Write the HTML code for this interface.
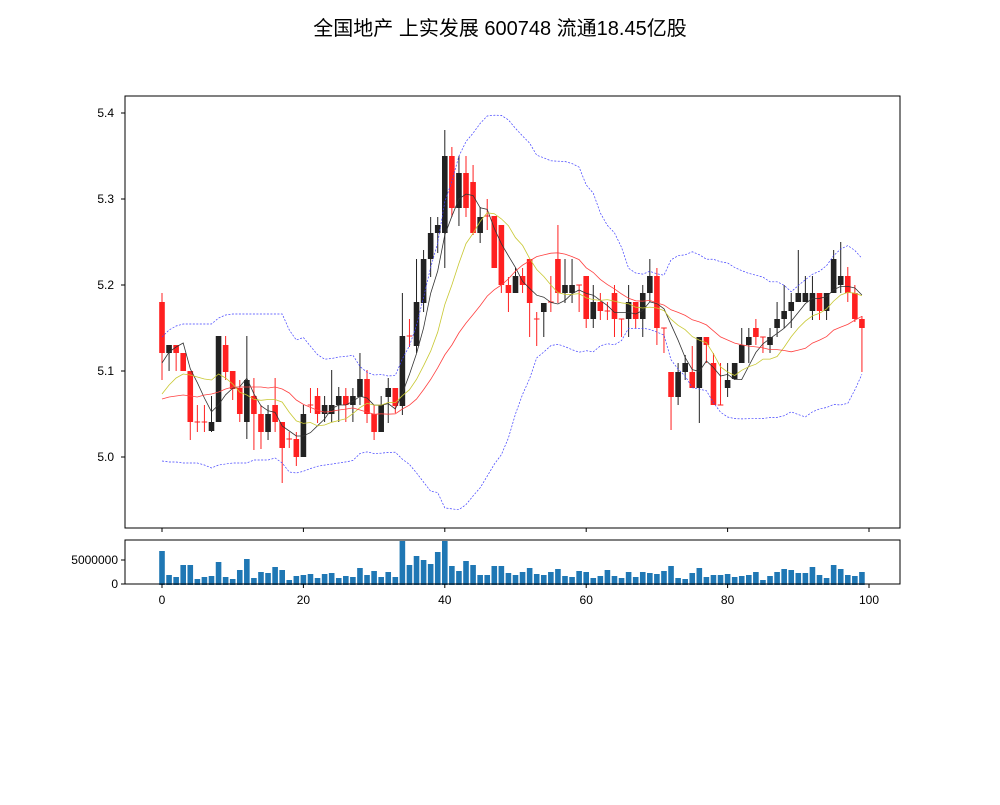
<!DOCTYPE html>
<html><head><meta charset="utf-8"><style>
body{margin:0;background:#fff}
svg text{font-family:"Liberation Sans","Noto Sans CJK SC",sans-serif;}
</style></head><body>
<svg id="s" width="1000" height="800" xmlns="http://www.w3.org/2000/svg">
<rect width="1000" height="800" fill="#fff"/>
<text x="500" y="35" font-size="20" text-anchor="middle" font-family="'Noto Sans CJK SC',sans-serif">全国地产 上实发展 600748 流通18.45亿股</text>
<g id="g"></g>
<rect x="125" y="96" width="775" height="432" fill="none" stroke="#000" stroke-width="1"/>
<rect x="125" y="540" width="775" height="44" fill="none" stroke="#000" stroke-width="1"/>
</svg>
<script>
var R='r',B='k';
var D=[
[R,302,353,293,380],[B,345,353,345,371],[R,345,353,345,371],[R,353,371,353,371],[R,371,422,371,440],
[R,422,422,405,432],[R,422,422,405,432],[B,422,431,396,432],[B,336,422,336,422],[R,345,372,336,380],
[R,371,389,371,400],[R,388,414,380,422],[B,380,422,336,439],[R,396,414,378,450],[R,414,432,405,449],
[B,414,432,405,440],[R,405,422,378,432],[R,422,448,422,483],[R,439,439,432,448],[R,439,457,432,466],
[B,414,457,405,457],[R,405,405,388,413],[R,396,414,388,423],[B,405,414,396,422],[B,405,414,370,422],
[B,396,405,387,422],[R,396,405,388,422],[B,396,405,388,422],[B,379,397,353,405],[R,379,414,370,423],
[R,414,432,405,440],[B,405,432,396,432],[B,388,397,378,423],[R,388,406,388,413],[B,336,406,293,415],
[R,336,336,319,347],[B,302,346,259,353],[B,259,303,250,312],[B,233,259,217,277],[B,225,233,217,253],
[B,156,233,130,268],[R,156,208,147,217],[B,173,208,156,226],[R,173,208,156,217],[R,182,233,165,235],
[B,217,233,207,243],[R,216,216,199,230],[R,216,268,216,268],[R,225,285,225,293],[R,285,293,277,312],
[B,276,293,268,293],[R,276,285,268,293],[R,259,303,259,337],[R,319,319,312,346],[B,303,312,303,337],
[R,302,302,276,312],[R,259,293,225,303],[B,285,293,259,303],[B,285,293,259,303],[R,285,285,285,312],
[R,276,319,276,328],[B,302,319,285,328],[R,302,311,293,320],[R,311,311,302,320],[R,293,319,285,337],
[R,319,319,319,337],[B,302,319,285,337],[R,302,319,302,328],[B,293,319,285,337],[B,276,293,259,302],
[R,276,328,268,345],[R,328,328,328,353],[R,372,397,372,430],[B,372,397,363,405],[B,363,372,355,380],
[R,372,388,346,388],[B,337,388,337,423],[R,337,345,337,363],[R,363,405,353,405],[R,405,405,363,405],
[B,380,388,363,397],[B,363,379,363,379],[B,345,363,328,363],[B,337,345,328,363],[R,328,337,319,345],
[R,337,337,337,353],[B,337,345,328,353],[B,319,328,302,337],[B,311,319,285,328],[B,302,311,293,328],
[B,293,302,250,302],[B,293,302,276,302],[B,293,311,276,320],[R,293,311,293,320],[B,293,311,293,320],
[B,259,293,250,293],[B,276,285,242,293],[R,276,293,267,302],[R,293,319,285,322],[R,319,328,316,372]];
var V=[48,120,126,90,90,132,126,123,81,126,132,105,72,129,111,114,96,105,135,123,120,117,129,117,114,129,123,126,99,120,108,126,111,126,18,90,63,75,87,51,18,93,108,78,90,120,120,93,
93,114,120,111,99,117,120,111,102,123,126,108,111,129,123,105,123,129,111,126,111,114,117,108,93,129,132,114,99,126,120,120,117,126,123,120,111,135,123,111,102,105,114,114,96,120,129,90,102,120,123,111];
function X(i){return 162+7.07*i}
var h='';
var C=D.map(function(d){return d[0]==B?d[1]:d[2]});
function ma(n){return C.map(function(_,i){var s=0,k=0;for(var j=Math.max(0,i-n+1);j<=i;j++){s+=C[j];k++}return s/k})}
function pl(a,col,w,dash){return '<polyline fill="none" stroke="'+col+'" stroke-width="'+w+'"'+(dash?' stroke-dasharray="'+dash+'"':'')+' points="'+a.map(function(v,i){return X(i).toFixed(1)+','+v.toFixed(1)}).join(' ')+'"/>'}
var m20=ma(20),up=[],lo=[];
C.forEach(function(_,i){var s=0,k=0;for(var j=Math.max(0,i-19);j<=i;j++){s+=Math.pow(C[j]-m20[i],2);k++}var sd=Math.sqrt(s/k);up.push(m20[i]-2*sd);lo.push(m20[i]+2*sd)});
var m5=ma(5),m10=ma(10);
var U0=[337,330,326,324,324,324,324,324,318,315,314,314,314,314,314,314,314,314,330,340];
var L0=[461,462,462,463,463,463,465,468,465,464,463,463,463,460,460,460,458,463,472,473];
var M0=[399,397,396,395,396,397,395,394,392,389,387,387,387,387,387,388,387,389,393,400];
var T0=[394,385,378,374,375,377,379,380,374,378,384];
var F0=[363,352,347,343];
U0.forEach(function(v,i){up[i]=v});L0.forEach(function(v,i){lo[i]=v});M0.forEach(function(v,i){m20[i]=v});
T0.forEach(function(v,i){m10[i]=v});F0.forEach(function(v,i){m5[i]=v});
D.forEach(function(d,i){var c=d[0]==R?'#ff2020':'#222',x=X(i);
h+='<line x1="'+x+'" x2="'+x+'" y1="'+d[3]+'" y2="'+d[4]+'" stroke="'+c+'" stroke-width="1"/>';
if(d[2]-d[1]<1.5)h+='<line x1="'+(x-2.8)+'" x2="'+(x+2.8)+'" y1="'+d[1]+'" y2="'+d[1]+'" stroke="'+c+'" stroke-width="1"/>';
else h+='<rect x="'+(x-2.8)+'" y="'+d[1]+'" width="5.6" height="'+(d[2]-d[1])+'" fill="'+c+'"/>';});
h+=pl(m5,'#333',0.8)+pl(m10,'#c8c832',0.8)+pl(m20,'#ff4040',0.8)+pl(up,'#4040ff',0.7,'2,1.5')+pl(lo,'#4040ff',0.7,'2,1.5');
V.forEach(function(v,i){var hh=(150-v)/3;h+='<rect x="'+(X(i)-2.8)+'" y="'+(585-hh)+'" width="5.6" height="'+hh+'" fill="#1f77b4"/>'});
[[5.0,457],[5.1,371],[5.2,285],[5.3,199],[5.4,113]].forEach(function(t){h+='<line x1="121" x2="125" y1="'+t[1]+'" y2="'+t[1]+'" stroke="#000"/><text x="114" y="'+(t[1]+4)+'" font-size="12" text-anchor="end">'+t[0].toFixed(1)+'</text>'});
[[0,584],[5000000,560]].forEach(function(t){h+='<line x1="121" x2="125" y1="'+t[1]+'" y2="'+t[1]+'" stroke="#000"/><text x="118" y="'+(t[1]+4)+'" font-size="12" text-anchor="end">'+t[0]+'</text>'});
for(var k=0;k<=100;k+=20){var x=X(k);h+='<line x1="'+x+'" x2="'+x+'" y1="528" y2="532" stroke="#000"/><line x1="'+x+'" x2="'+x+'" y1="584" y2="588" stroke="#000"/><text x="'+x+'" y="604" font-size="12" text-anchor="middle">'+k+'</text>'}
document.getElementById('g').innerHTML=h;
</script>
</body></html>
